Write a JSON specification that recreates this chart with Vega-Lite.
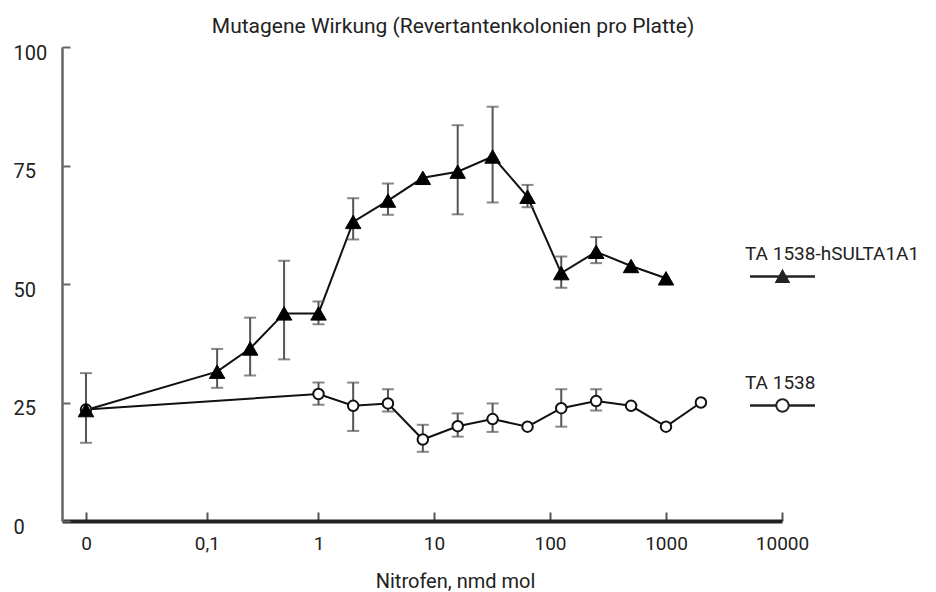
{
  "$schema": "https://vega.github.io/schema/vega-lite/v6.json",
  "width": 720,
  "height": 474,
  "autosize": {"type": "none"},
  "padding": {"left": 62, "top": 47, "right": 154, "bottom": 71},
  "background": "white",
  "config": {
    "view": {"stroke": null},
    "font": "Roboto, sans-serif",
    "axis": {"grid": false, "labelFont": "Roboto, sans-serif", "titleFont": "Roboto, sans-serif", "titleFontWeight": "normal", "labelColor": "#222", "titleColor": "#222"},
    "legend": {"labelFont": "Roboto, sans-serif"},
    "style": {"guide-label": {"lineHeight": 45}}
  },
  "data": {
    "values": [
      {"strain": "TA 1538-hSULTA1A1", "dose": 0, "mean": 23.4, "lo": 16.5, "hi": 31.2},
      {"strain": "TA 1538-hSULTA1A1", "dose": 0.125, "mean": 31.5, "lo": 28.1, "hi": 36.3},
      {"strain": "TA 1538-hSULTA1A1", "dose": 0.25, "mean": 36.4, "lo": 30.7, "hi": 42.9},
      {"strain": "TA 1538-hSULTA1A1", "dose": 0.5, "mean": 43.8, "lo": 34.1, "hi": 54.9},
      {"strain": "TA 1538-hSULTA1A1", "dose": 1, "mean": 43.8, "lo": 41.5, "hi": 46.3},
      {"strain": "TA 1538-hSULTA1A1", "dose": 2, "mean": 63.1, "lo": 59.4, "hi": 68.1},
      {"strain": "TA 1538-hSULTA1A1", "dose": 4, "mean": 67.6, "lo": 64.6, "hi": 71.2},
      {"strain": "TA 1538-hSULTA1A1", "dose": 8, "mean": 72.4, "lo": null, "hi": null},
      {"strain": "TA 1538-hSULTA1A1", "dose": 16, "mean": 73.7, "lo": 64.7, "hi": 83.5},
      {"strain": "TA 1538-hSULTA1A1", "dose": 32, "mean": 76.9, "lo": 67.2, "hi": 87.4},
      {"strain": "TA 1538-hSULTA1A1", "dose": 64, "mean": 68.4, "lo": 66.2, "hi": 70.9},
      {"strain": "TA 1538-hSULTA1A1", "dose": 125, "mean": 52.3, "lo": 49.2, "hi": 55.8},
      {"strain": "TA 1538-hSULTA1A1", "dose": 250, "mean": 56.8, "lo": 54.4, "hi": 59.9},
      {"strain": "TA 1538-hSULTA1A1", "dose": 500, "mean": 53.8, "lo": null, "hi": null},
      {"strain": "TA 1538-hSULTA1A1", "dose": 1000, "mean": 51.2, "lo": null, "hi": null},
      {"strain": "TA 1538", "dose": 0, "mean": 23.5, "lo": null, "hi": null},
      {"strain": "TA 1538", "dose": 1, "mean": 26.8, "lo": 24.5, "hi": 29.2},
      {"strain": "TA 1538", "dose": 2, "mean": 24.3, "lo": 19.0, "hi": 29.2},
      {"strain": "TA 1538", "dose": 4, "mean": 24.8, "lo": 23.1, "hi": 27.8},
      {"strain": "TA 1538", "dose": 8, "mean": 17.2, "lo": 14.6, "hi": 20.3},
      {"strain": "TA 1538", "dose": 16, "mean": 20.0, "lo": 17.8, "hi": 22.7},
      {"strain": "TA 1538", "dose": 32, "mean": 21.5, "lo": 18.8, "hi": 24.8},
      {"strain": "TA 1538", "dose": 64, "mean": 19.9, "lo": null, "hi": null},
      {"strain": "TA 1538", "dose": 125, "mean": 23.8, "lo": 19.9, "hi": 27.8},
      {"strain": "TA 1538", "dose": 250, "mean": 25.3, "lo": 23.3, "hi": 27.8},
      {"strain": "TA 1538", "dose": 500, "mean": 24.3, "lo": null, "hi": null},
      {"strain": "TA 1538", "dose": 1000, "mean": 19.9, "lo": null, "hi": null},
      {"strain": "TA 1538", "dose": 2000, "mean": 25.0, "lo": null, "hi": null}
    ]
  },
  "encoding": {
    "x": {
      "field": "dose",
      "type": "quantitative",
      "scale": {"type": "symlog", "constant": 0.01, "domain": [-0.0061, 10000], "nice": false, "zero": false},
      "axis": {
        "title": "Nitrofen, nmd mol",
        "titleX": 393,
        "titleY": 66,
        "titleAlign": "center",
        "titleBaseline": "alphabetic",
        "titleFontSize": 20,
        "values": [0, 0.1, 1, 10, 100, 1000, 10000],
        "labelExpr": "datum.value == 0.1 ? '0,1' : format(datum.value, 'd')",
        "labelFontSize": 19,
        "labelPadding": 22,
        "labelFlush": false,
        "labelOverlap": false,
        "tickSize": -9,
        "tickColor": "#555",
        "tickWidth": 2,
        "domainColor": "#222",
        "domainWidth": 4
      }
    },
    "y": {
      "field": "mean",
      "type": "quantitative",
      "scale": {"domain": [0, 100], "nice": false},
      "axis": {
        "title": "Mutagene Wirkung (Revertantenkolonien pro Platte)",
        "titleAngle": 0,
        "titleX": 390.5,
        "titleY": -15,
        "titleAlign": "center",
        "titleBaseline": "alphabetic",
        "titleFontSize": 21,
        "values": [0, 25, 50, 75, 100],
        "labelAlign": "left",
        "labelBaseline": "middle",
        "labelOffset": 6,
        "labelPadding": 57,
        "labelFontSize": 20,
        "tickSize": -8,
        "tickColor": "#666",
        "tickWidth": 2,
        "domainColor": "#666",
        "domainWidth": 2.5
      }
    }
  },
  "layer": [
    {
      "mark": {"type": "line", "color": "#111", "strokeWidth": 2},
      "encoding": {"detail": {"field": "strain", "type": "nominal"}}
    },
    {
      "transform": [{"filter": "datum.lo != null"}],
      "mark": {"type": "rule", "color": "#555", "strokeWidth": 2},
      "encoding": {"y": {"field": "lo", "type": "quantitative"}, "y2": {"field": "hi"}}
    },
    {
      "transform": [{"filter": "datum.lo != null"}],
      "mark": {"type": "tick", "orient": "horizontal", "color": "#555", "size": 12, "thickness": 2},
      "encoding": {"y": {"field": "lo", "type": "quantitative"}}
    },
    {
      "transform": [{"filter": "datum.hi != null"}],
      "mark": {"type": "tick", "orient": "horizontal", "color": "#555", "size": 12, "thickness": 2},
      "encoding": {"y": {"field": "hi", "type": "quantitative"}}
    },
    {
      "data": {"values": [{"part": "break"}]},
      "mark": {"type": "rect", "fill": "white"},
      "encoding": {
        "x": {"datum": 0.0249, "type": "quantitative"},
        "x2": {"datum": 0.0326},
        "y": {"datum": -6.4, "type": "quantitative"},
        "y2": {"datum": 40.5}
      }
    },
    {
      "data": {"values": [{"part": "break"}]},
      "mark": {"type": "rule", "color": "#777", "strokeWidth": 2},
      "encoding": {
        "x": {"datum": 0.0249, "type": "quantitative"},
        "y": {"datum": -6.4, "type": "quantitative"},
        "y2": {"datum": 40.5}
      }
    },
    {
      "data": {"values": [{"part": "break"}]},
      "mark": {"type": "rule", "color": "#777", "strokeWidth": 2},
      "encoding": {
        "x": {"datum": 0.0326, "type": "quantitative"},
        "y": {"datum": -6.4, "type": "quantitative"},
        "y2": {"datum": 40.5}
      }
    },
    {
      "transform": [{"filter": "datum.strain == 'TA 1538'"}],
      "mark": {"type": "point", "shape": "circle", "filled": true, "fill": "#ffffff", "stroke": "#111", "strokeWidth": 2, "size": 110, "opacity": 1}
    },
    {
      "transform": [{"filter": "datum.strain == 'TA 1538-hSULTA1A1'"}],
      "mark": {"type": "point", "shape": "triangle-up", "filled": true, "fill": "#000", "stroke": "#000", "strokeWidth": 1, "size": 240, "opacity": 1}
    },
    {
      "mark": {"type": "point", "filled": true, "color": "#222", "opacity": 0, "strokeWidth": 0},
      "encoding": {
        "shape": {
          "field": "strain",
          "type": "nominal",
          "scale": {
            "domain": ["TA 1538-hSULTA1A1", "TA 1538"],
            "range": [
              "M-1,-0.038H1V0.038H-1ZM0,-0.24L0.24,0.2L-0.24,0.2Z",
              "M-1,-0.038H-0.2V0.038H-1ZM0.2,-0.038H1V0.038H0.2ZM0.22,0C0.22,0.1215,0.1215,0.22,0,0.22C-0.1215,0.22,-0.22,0.1215,-0.22,0C-0.22,-0.1215,-0.1215,-0.22,0,-0.22C0.1215,-0.22,0.22,-0.1215,0.22,0ZM0.16,0C0.16,-0.0884,0.0884,-0.16,0,-0.16C-0.0884,-0.16,-0.16,-0.0884,-0.16,0C-0.16,0.0884,-0.0884,0.16,0,0.16C0.0884,0.16,0.16,0.0884,0.16,0Z"
            ]
          },
          "legend": {
            "title": null,
            "orient": "none",
            "legendX": 688,
            "legendY": 197,
            "direction": "vertical",
            "padding": 0,
            "rowPadding": 90,
            "symbolSize": 4225,
            "symbolStrokeWidth": 0,
            "symbolFillColor": "#222",
            "symbolOpacity": 1,
            "labelFontSize": 19,
            "labelColor": "#222",
            "labelOffset": -70,
            "labelBaseline": "line-bottom",
            "labelLimit": 300
          }
        }
      }
    }
  ]
}
